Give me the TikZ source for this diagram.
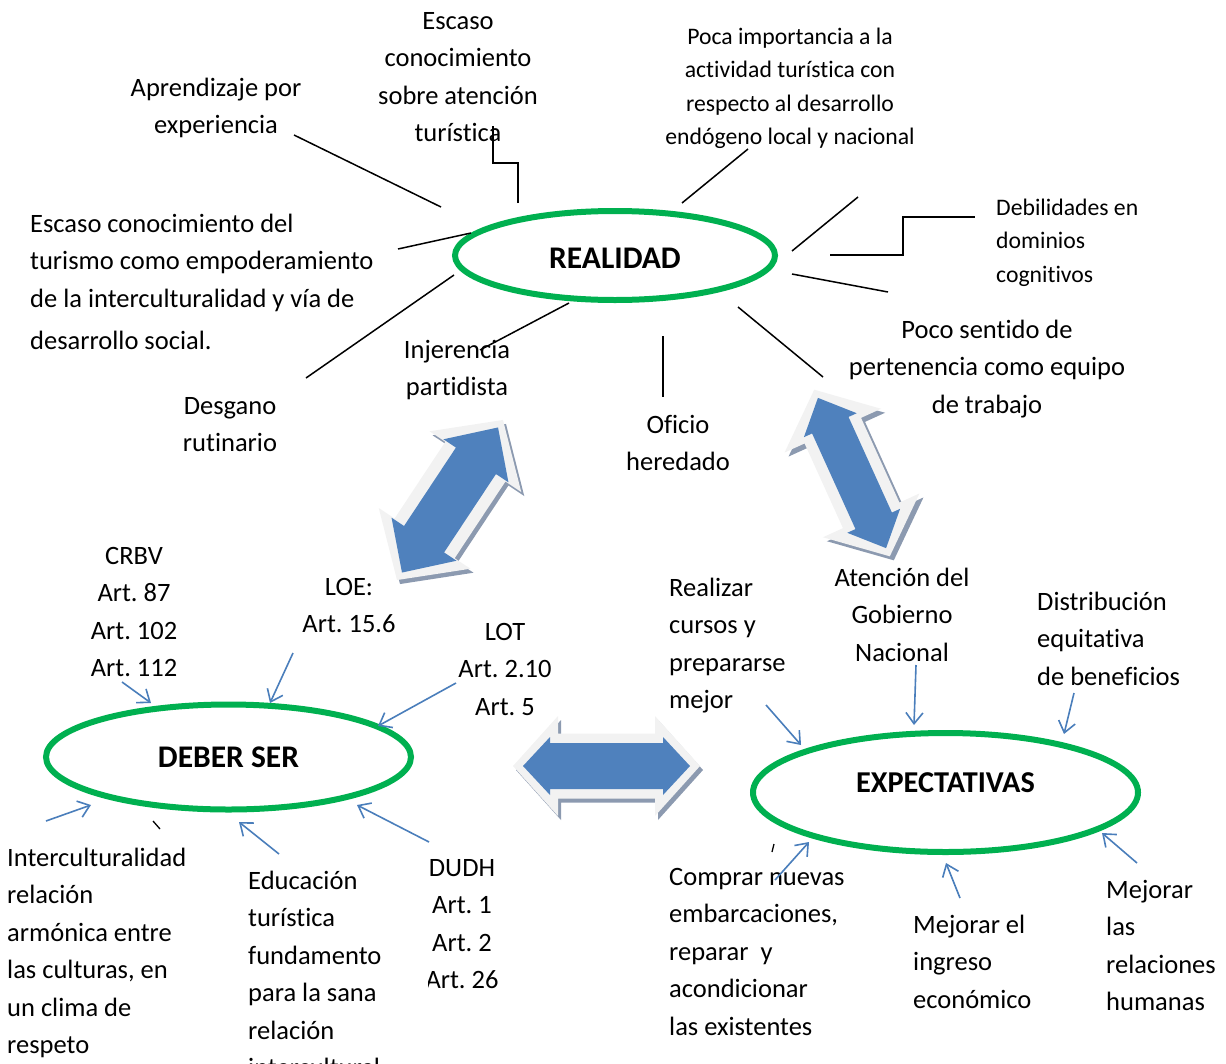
\documentclass[tikz,border=0pt]{standalone}
\usepackage{fontspec}
\setmainfont{Carlito}[Ligatures=NoCommon]
\frenchspacing
\usetikzlibrary{shapes.geometric,arrows.meta}
\definecolor{ovgreen}{HTML}{00B050}
\definecolor{linkblue}{HTML}{4A7EBB}
\definecolor{arrfill}{HTML}{4F81BD}
\definecolor{arrrim}{HTML}{F2F2F2}
\definecolor{arrshadow}{HTML}{8C9AB0}
\newcommand\dbarr[4]{(-#1/2,0) -- (-#1/2+#4,#3) -- (-#1/2+#4,#2) -- (#1/2-#4,#2) -- (#1/2-#4,#3) -- (#1/2,0) -- (#1/2-#4,-#3) -- (#1/2-#4,-#2) -- (-#1/2+#4,-#2) -- (-#1/2+#4,-#3) -- cycle}
\newcommand\fl{\rule{0pt}{20pt}}
\tikzset{
  big/.style={font=\fontsize{26.5}{37.5}\selectfont, inner sep=0pt, align=center, anchor=north},
  bigl/.style={big, align=left, anchor=north west},
  sml/.style={font=\fontsize{23.7}{33.5}\selectfont, inner sep=0pt, align=center, anchor=north},
  smll/.style={sml, align=left, anchor=north west},
  oval/.style={ellipse, draw=ovgreen, line width=6pt, inner sep=0pt},
  ovtext/.style={font=\fontsize{31.5}{36}\selectfont\bfseries, inner sep=0pt},
  conn/.style={draw=black, line width=1.5pt},
  link/.style={draw=linkblue, line width=1.6pt, -{Straight Barb[length=11pt,width=17pt]}},
}
\begin{document}
\begin{tikzpicture}[x=1pt,y=-1pt]
\useasboundingbox (0,0) rectangle (1226,1063);

% ovals
\node[oval, minimum width=320pt, minimum height=89pt] (real) at (615,255.5) {};
\node[ovtext] (realt) at (615,258) {REALIDAD};
\node[oval, minimum width=365pt, minimum height=105pt] (deber) at (228.5,757) {};
\node[ovtext] (debert) at (228.5,757) {DEBER SER};
\node[oval, minimum width=385pt, minimum height=119pt] (expe) at (945.5,792.5) {};
\node[ovtext, font=\fontsize{30.3}{36}\selectfont\bfseries] (expet) at (945.5,783) {EXPECTATIVAS};

% big double arrows
\begin{scope}[shift={(453,504)},rotate=56.5]
  \fill[arrshadow] \dbarr{192}{36}{55}{50};
\end{scope}
\begin{scope}[shift={(450,500)},rotate=56.5]
  \fill[arrrim] \dbarr{192}{36}{55}{50};
  \fill[arrfill] \dbarr{174}{24}{39}{40};
\end{scope}
\begin{scope}[shift={(856,477)},rotate=-65.6]
  \fill[arrshadow] \dbarr{183}{31}{53}{45};
\end{scope}
\begin{scope}[shift={(852,473)},rotate=-65.6]
  \fill[arrrim] \dbarr{183}{31}{53}{45};
  \fill[arrfill] \dbarr{165}{20}{29}{30};
\end{scope}
\begin{scope}[shift={(609.5,770)}]
  \fill[arrshadow] \dbarr{187}{32.5}{50}{45};
\end{scope}
\begin{scope}[shift={(606.5,766)}]
  \fill[arrrim] \dbarr{187}{32.5}{50}{45};
  \fill[arrfill] \dbarr{167}{23}{29}{27};
\end{scope}

% texts
\node[big] (esc) at (458,9) {\fl Escaso\\conocimiento\\sobre atención\\turística};
\node[big] (apr) at (216,76) {\fl Aprendizaje por\\experiencia};
\node[bigl] (esct) at (30,212) {\fl Escaso conocimiento del\\turismo como empoderamiento\\de la interculturalidad y vía de\\[4.5pt]desarrollo social.};
\node[big] (desg) at (230,394) {\fl Desgano\\rutinario};
\node[big] (inj) at (457,338) {\fl Injerencia\\partidista};
\node[big] (ofi) at (678,413) {\fl Oficio\\heredado};
\begin{scope}
  \clip (800,300) rectangle (1200,417);
  \node[big] (poco) at (987,318) {\fl Poco sentido de\\pertenencia como equipo\\de trabajo};
\end{scope}
\node[sml] (poca) at (790,24) {\fl Poca importancia a la\\actividad turística con\\respecto al desarrollo\\endógeno local y nacional};
\node[smll] (debil) at (996,195) {\fl Debilidades en\\dominios\\cognitivos};

\node[big] (crbv) at (134,544) {\fl CRBV\\Art. 87\\Art. 102\\Art. 112};
\node[big] (loe) at (349,575) {\fl LOE:\\Art. 15.6};
\node[big] (lot) at (505,620) {\fl LOT\\Art. 2.10\\Art. 5};
\node[bigl] (realiz) at (669,576) {\fl Realizar\\cursos y\\prepararse\\mejor};
\node[big] (aten) at (902,566) {\fl Atención del\\Gobierno\\Nacional};
\node[bigl] (dist) at (1037,590) {\fl Distribución\\equitativa\\de beneficios};

\node[bigl] (inter) at (7,846) {\fl Interculturalidad\\relación\\armónica entre\\las culturas, en\\un clima de\\respeto};
\node[bigl] (edu) at (248,869) {\fl Educación\\turística\\fundamento\\para la sana\\relación\\intercultural};
\begin{scope}
  \clip (428,820) rectangle (560,1010);
  \node[big] (dudh) at (462,856) {\fl DUDH\\Art. 1\\Art. 2\\Art. 26};
\end{scope}
\node[bigl] (comp) at (669,865) {\fl Comprar nuevas\\embarcaciones,\\reparar\ \ y\\acondicionar\\las existentes};
\node[bigl] (mej1) at (913,913) {\fl Mejorar el\\ingreso\\económico};
\node[bigl] (mej2) at (1106,878) {\fl Mejorar\\las\\relaciones\\humanas};

% connector end points
\coordinate (a1) at (294,135);  \coordinate (a2) at (441,207);
\coordinate (b1) at (398,249);  \coordinate (b2) at (471,233);
\coordinate (c1) at (306,378);  \coordinate (c2) at (454,275);
\coordinate (d1) at (480,350);  \coordinate (d2) at (569,303);
\coordinate (e1) at (518,203);  \coordinate (e2) at (493,126);
\coordinate (f1) at (682,203);  \coordinate (f2) at (748,149);
\coordinate (g1) at (792,251);  \coordinate (g2) at (858,197);
\coordinate (h1) at (830,255);  \coordinate (h2) at (975,217);
\coordinate (i1) at (792,274);  \coordinate (i2) at (888,292);
\coordinate (j1) at (738,307);  \coordinate (j2) at (823,377);
\coordinate (k1) at (663,336);  \coordinate (k2) at (663,397);

\draw[conn] (a1) -- (a2);
\draw[conn] (b1) -- (b2);
\draw[conn] (c1) -- (c2);
\draw[conn] (d1) -- (d2);
\draw[conn] (e1) -- (518,163) -- (493,163) -- (e2);
\draw[conn] (f1) -- (f2);
\draw[conn] (g1) -- (g2);
\draw[conn] (h1) -- (903,255) -- (903,217) -- (h2);
\draw[conn] (i1) -- (i2);
\draw[conn] (j1) -- (j2);
\draw[conn] (k1) -- (k2);

% small marks
\coordinate (t1) at (153,821); \coordinate (t2) at (160,829);
\draw[line width=1.3pt] (t1) -- (t2);
\coordinate (t3) at (774,844); \coordinate (t4) at (772,852);
\draw[line width=1.3pt] (t3) -- (t4);

% blue arrows
\coordinate (p1) at (122,682);  \coordinate (q1) at (151,703);
\coordinate (p2) at (293,653);  \coordinate (q2) at (270,703);
\coordinate (p3) at (456,683);  \coordinate (q3) at (378,726);
\coordinate (p4) at (46,821);   \coordinate (q4) at (91,805);
\coordinate (p5) at (279,854);  \coordinate (q5) at (239,822);
\coordinate (p6) at (429,842);  \coordinate (q6) at (357,805);
\coordinate (p7) at (766,705);  \coordinate (q7) at (801,745);
\coordinate (p8) at (916,665);  \coordinate (q8) at (914,725);
\coordinate (p9) at (1074,693); \coordinate (q9) at (1064,734);
\coordinate (p10) at (775,880); \coordinate (q10) at (809,842);
\coordinate (p11) at (960,898); \coordinate (q11) at (946,863);
\coordinate (p12) at (1137,863);\coordinate (q12) at (1102,833);
\foreach \n in {1,...,12} {\draw[link] (p\n) -- (q\n);}
\end{tikzpicture}
\end{document}
